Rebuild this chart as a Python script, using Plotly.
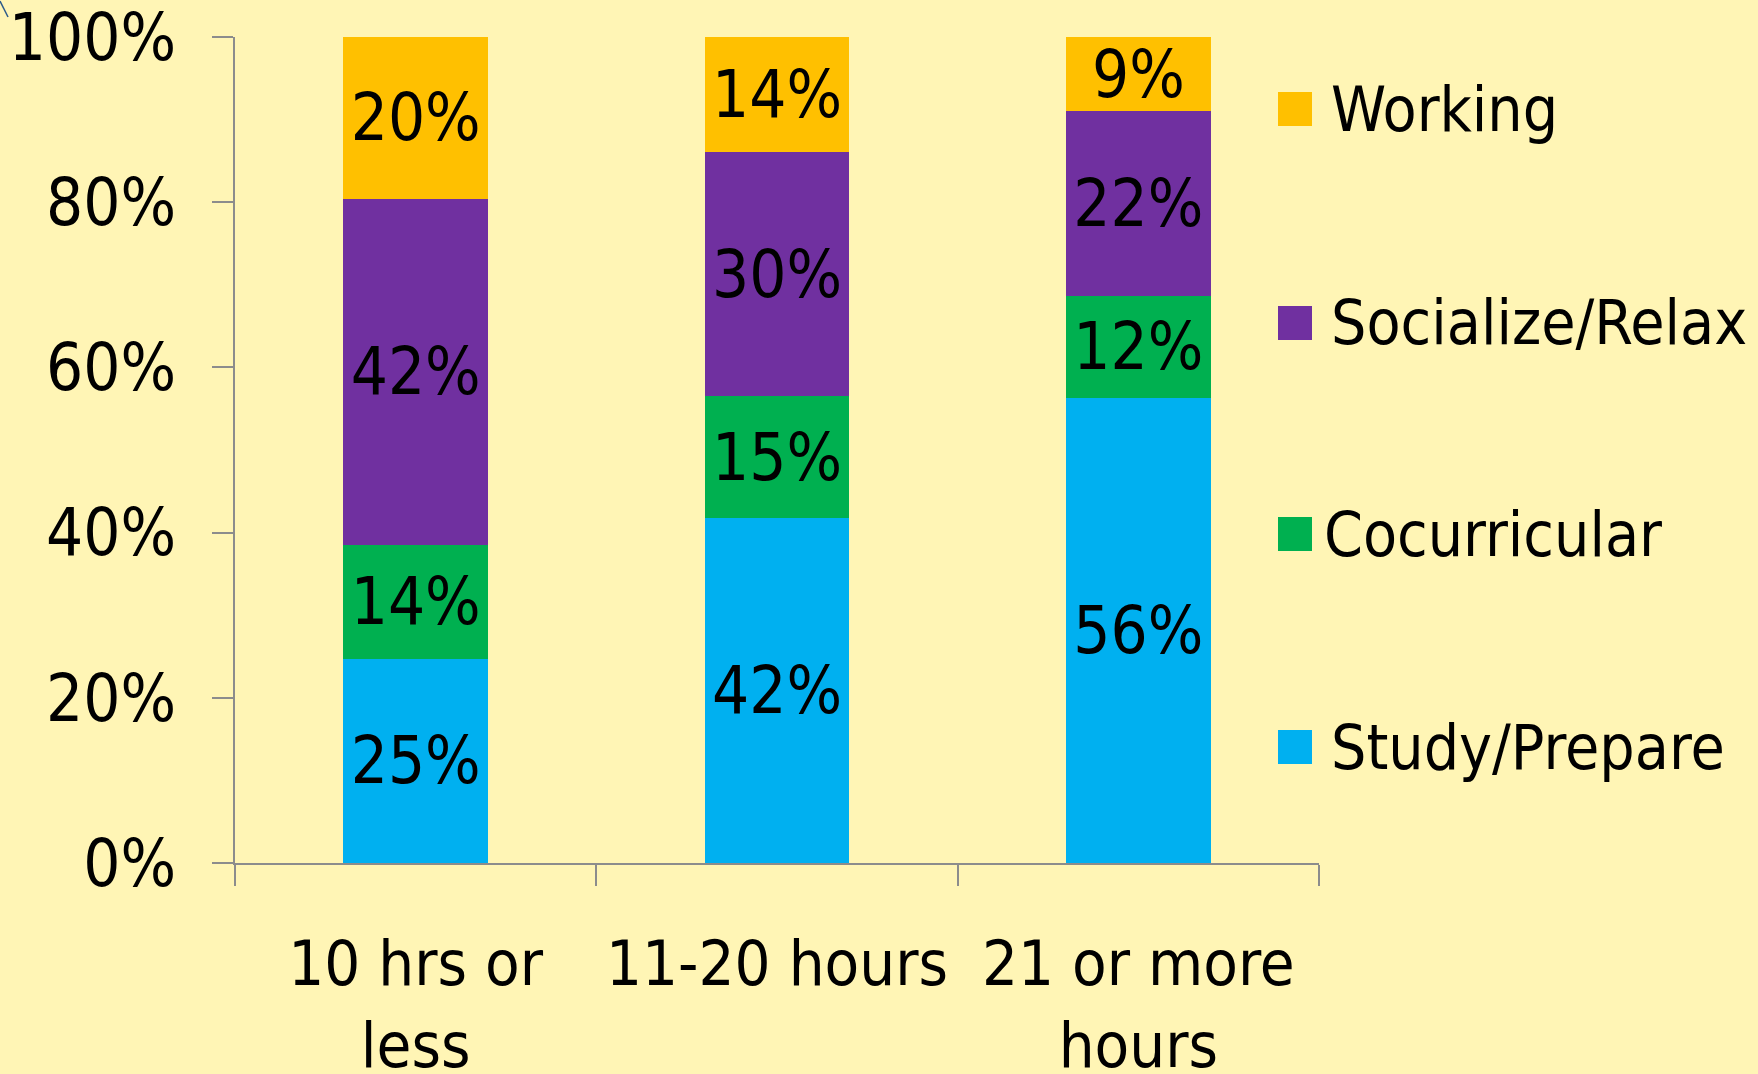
import plotly.graph_objects as go

categories = ["10 hrs or<br>less", "11-20 hours", "21 or more<br>hours"]
series_names = ["Study/Prepare", "Cocurricular", "Socialize/Relax", "Working"]
study = [24.7, 41.8, 56.3]
cocurricular = [13.8, 14.7, 12.4]
socialize = [41.9, 29.6, 22.3]
working = [19.6, 13.9, 9.0]
colors = ["#00B0F0", "#00B050", "#7030A0", "#FFC000"]
y_ticks = [0, 20, 40, 60, 80, 100]
y_ticktext = [f"{v}%" for v in y_ticks]

FONT = "DejaVu Sans Condensed, DejaVu Sans, sans-serif"
W, H = 1758, 1074
L, R, T, B = 235, 439, 37, 211
BG = "#FFF5B5"
AX = "#8C8C8C"

fig = go.Figure()
for name, vals, col in zip(series_names, [study, cocurricular, socialize, working], colors):
    fig.add_trace(go.Bar(
        x=categories, y=vals, name=name, marker=dict(color=col, line=dict(width=0)),
        texttemplate="%{y:.0f}%", textposition="inside", insidetextanchor="middle",
        constraintext="none", textangle=0,
        textfont=dict(family=FONT, size=65, color="black"),
        showlegend=False, hoverinfo="skip",
    ))

# custom legend (top to bottom: Working, Socialize, Cocurricular, Study)
pw, ph = W - L - R, H - T - B
def px(x):
    return (x - L) / pw
def py(y):
    return (H - B - y) / ph

leg_y = [747, 534, 323, 109]
leg_tx = [1329, 1322, 1329, 1329]
shapes = []
annotations = []
for name, col, yc, tx in zip(series_names, colors, leg_y, leg_tx):
    shapes.append(dict(type="rect", xref="paper", yref="paper",
                       x0=px(1278), x1=px(1312), y0=py(yc + 17), y1=py(yc - 17),
                       fillcolor=col, line=dict(width=0)))
    annotations.append(dict(xref="paper", yref="paper", x=px(tx), y=py(yc),
                            xanchor="left", yanchor="middle", text=name, showarrow=False,
                            font=dict(family=FONT, size=62, color="black")))

# small stray stroke in the top-left corner of the original
shapes.append(dict(type="line", xref="paper", yref="paper",
                   x0=px(0), y0=py(1), x1=px(8), y1=py(17),
                   line=dict(color="#2E5C8A", width=1.5)))

fig.update_layout(
    width=W, height=H, barmode="stack", bargap=0.6,
    margin=dict(l=L, r=R, t=T, b=B, pad=0, autoexpand=False),
    paper_bgcolor=BG, plot_bgcolor=BG,
    font=dict(family=FONT, size=60, color="black"),
    shapes=shapes, annotations=annotations,
    xaxis=dict(showline=True, linecolor=AX, linewidth=2, ticks="outside", ticklen=21,
               tickcolor=AX, tickwidth=2, tickson="boundaries", showgrid=False,
               automargin=False, ticklabeloverflow="allow",
               tickfont=dict(family=FONT, size=63, color="black"), ticklabelstandoff=44),
    yaxis=dict(range=[0, 100], tickmode="array", tickvals=y_ticks, ticktext=y_ticktext,
               showline=True, linecolor=AX, automargin=False, ticklabeloverflow="allow",
               linewidth=2, ticks="outside", ticklen=21, tickcolor=AX, tickwidth=2,
               showgrid=False, zeroline=False,
               tickfont=dict(family=FONT, size=65, color="black"), ticklabelstandoff=23),
)

fig.write_html("out.html")
